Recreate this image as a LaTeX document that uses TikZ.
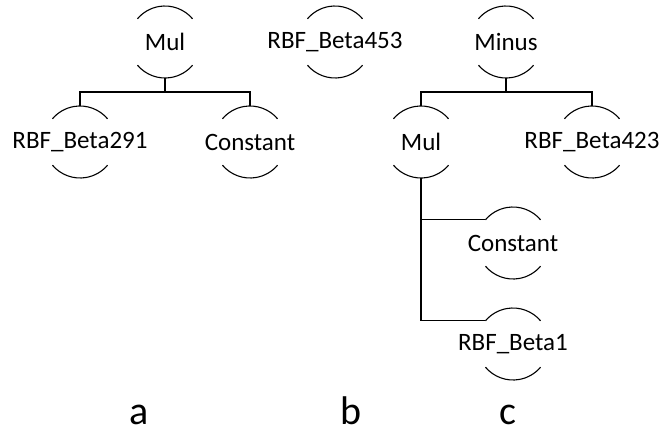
\documentclass[tikz,border=0pt]{standalone}
\usepackage{fontspec}
\setmainfont{Carlito}
\usepackage{tikz}
\usetikzlibrary{positioning}
\tikzstyle{gpnode}      = [circle, minimum size=72pt, inner sep=0pt, outer sep=0pt]
\tikzstyle{every label} = [font=\fontsize{25}{30}\selectfont, inner sep=0pt]
\tikzstyle{link}        = [line width=1.1pt]
\tikzstyle{caption}     = [anchor=base, font=\fontsize{40}{48}\selectfont, inner sep=0pt]

\begin{document}
\begin{tikzpicture}[x=1pt, y=1pt]
  \useasboundingbox (0,0) rectangle (660,-431);

  % Tree a
  \node[gpnode, label=center:{Mul}] (mulA) at (165,-42) {};
  \node[gpnode, label=center:{RBF\_Beta291}] (b291) at (80,-142) {};
  \node[gpnode, label=center:{Constant}] (constA) at (250,-142) {};

  % Tree b
  \node[gpnode, label=center:{RBF\_Beta453}] (b453) at (335,-42) {};

  % Tree c
  \node[gpnode, label=center:{Minus}] (minus) at (506,-42) {};
  \node[gpnode, label=center:{Mul}] (mulC) at (421,-142) {};
  \node[gpnode, label=center:{RBF\_Beta423}] (b423) at (592,-142) {};
  \node[gpnode, label=center:{Constant}] (constC) at (513,-243) {};
  \node[gpnode, label=center:{RBF\_Beta1}, below=29pt of constC] (b1) {};

  % Arcs
  \foreach \n in {mulA, b291, constA, b453, minus, mulC, b423, constC, b1} {
    \draw[link] (\n.40) arc[start angle=40, end angle=140, radius=36];
    \draw[link] (\n.-140) arc[start angle=-140, end angle=-40, radius=36];
  }

  % Links
  \draw[link] (mulA.south) -- ++(0,-14) -| (b291.north);
  \draw[link] (mulA.south) -- ++(0,-14) -| (constA.north);
  \draw[link] (minus.south) -- ++(0,-14) -| (mulC.north);
  \draw[link] (minus.south) -- ++(0,-14) -| (b423.north);
  \draw[link] (mulC.south) |- (constC.140);
  \draw[link] (mulC.south) |- (b1.140);

  % Captions
  \node[caption] (capA) at (139,-424) {a};
  \node[caption] (capB) at (351,-424) {b};
  \node[caption] (capC) at (508,-424) {c};
\end{tikzpicture}
\end{document}
